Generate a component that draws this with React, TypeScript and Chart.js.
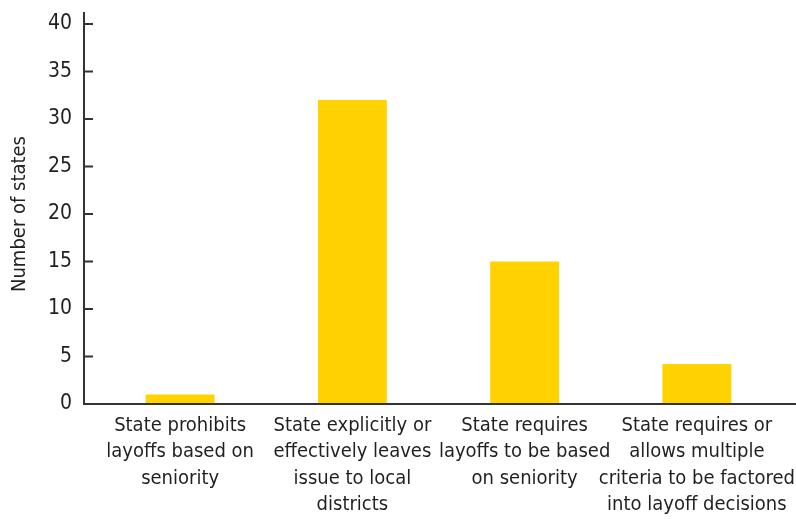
import React, { useEffect, useRef } from "react";
import { Chart, registerables } from "chart.js";

Chart.register(...registerables);

const categories: string[][] = [
  ["State prohibits", "layoffs based on", "seniority"],
  ["State explicitly or", "effectively leaves", "issue to local", "districts"],
  ["State requires", "layoffs to be based", "on seniority"],
  ["State requires or", "allows multiple", "criteria to be factored", "into layoff decisions"],
];
const values: number[] = [1, 32, 15, 4.2];
const yTicks: number[] = [0, 5, 10, 15, 20, 25, 30, 35, 40];
const yTitle = "Number of states";

const FONT = "'DejaVu Sans Condensed', 'Liberation Sans Narrow', 'Open Sans', sans-serif";
const AXIS_COLOR = "#333333";
const TEXT_COLOR = "#231f20";

const axisPlugin = {
  id: "customAxes",
  afterDatasetsDraw(chart: any) {
    const { ctx, chartArea, scales } = chart;
    const y = scales.y;
    const axisX = chartArea.left - 10;
    const baseY = y.getPixelForValue(0);
    ctx.save();
    ctx.strokeStyle = AXIS_COLOR;
    ctx.lineWidth = 2;
    ctx.beginPath();
    ctx.moveTo(axisX, y.getPixelForValue(40) - 12);
    ctx.lineTo(axisX, baseY + 1);
    ctx.moveTo(axisX - 1, baseY);
    ctx.lineTo(chart.width, baseY);
    yTicks.forEach((v) => {
      const py = y.getPixelForValue(v);
      ctx.moveTo(axisX, py);
      ctx.lineTo(axisX + 9, py);
    });
    ctx.stroke();
    ctx.restore();
  },
};

export default function App() {
  const ref = useRef<HTMLCanvasElement | null>(null);
  useEffect(() => {
    if (!ref.current) return;
    const chart = new Chart(ref.current, {
      type: "bar",
      data: {
        labels: categories,
        datasets: [
          {
            data: values,
            backgroundColor: "#FFD200",
            borderWidth: 0,
            categoryPercentage: 1,
            barPercentage: 0.4,
          },
        ],
      },
      options: {
        animation: false,
        responsive: false,
        maintainAspectRatio: false,
        layout: { padding: { top: 24, right: 13, left: 0, bottom: 0 } },
        plugins: { legend: { display: false }, tooltip: { enabled: false } },
        scales: {
          x: {
            grid: { display: false, drawTicks: false },
            border: { display: false },
            ticks: {
              color: TEXT_COLOR,
              font: { family: FONT, size: 20, lineHeight: 1.33 },
              padding: 8,
              maxRotation: 0,
              autoSkip: false,
            },
            afterFit(scale: any) {
              scale.height = 115;
              scale.paddingLeft = 0;
              scale.paddingRight = 0;
            },
          },
          y: {
            min: 0,
            max: 40,
            grid: { display: false, drawTicks: false },
            border: { display: false },
            ticks: {
              stepSize: 5,
              color: TEXT_COLOR,
              font: { family: FONT, size: 21 },
              padding: 22,
            },
            title: {
              display: true,
              text: yTitle,
              color: TEXT_COLOR,
              font: { family: FONT, size: 20 },
              padding: { top: 8, bottom: 0 },
            },
            afterFit(scale: any) {
              scale.width = 94;
              scale.paddingTop = 0;
              scale.paddingBottom = 0;
            },
          },
        },
      },
      plugins: [axisPlugin],
    });
    return () => chart.destroy();
  }, []);
  return (
    <div style={{ position: "absolute", left: 0, top: 0, width: 796, height: 519, background: "#fff" }}>
      <canvas ref={ref} width={796} height={519} style={{ width: 796, height: 519 }} />
    </div>
  );
}
